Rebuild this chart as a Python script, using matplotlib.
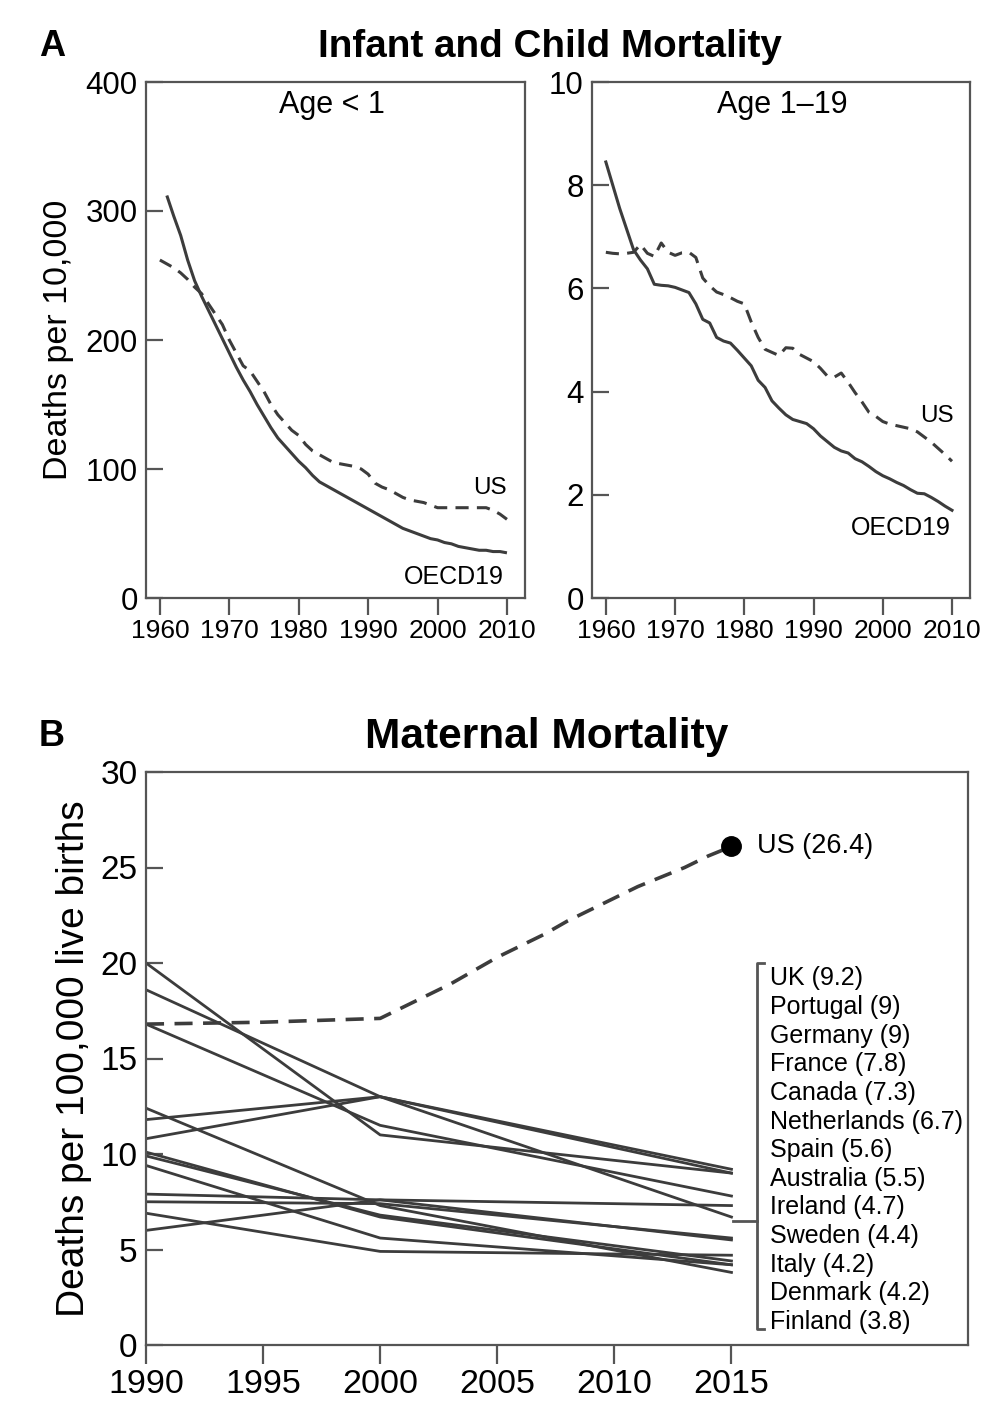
import numpy as np
import matplotlib
matplotlib.use("Agg")
import matplotlib.pyplot as plt

plt.rcParams['font.family'] = ['Liberation Sans', 'DejaVu Sans']

LINE = '#3c3c3c'
SPINE = '#555555'

# ---- Panel A: infant (<1) deaths per 10,000 ----
inf_years_oecd = list(range(1961, 2011))
inf_oecd = [312, 296, 281, 262, 246, 234, 223, 212, 201, 190,
            179, 169, 160, 150, 141, 132, 124, 118, 112, 106,
            101, 95, 90, 87, 84, 81, 78, 75, 72, 69,
            66, 63, 60, 57, 54, 52, 50, 48, 46, 45,
            43, 42, 40, 39, 38, 37, 37, 36, 36, 35]
inf_years_us = list(range(1960, 2011))
inf_us = [262, 259, 256, 252, 247, 241, 236, 228, 220, 212,
          200, 190, 180, 176, 168, 160, 150, 142, 136, 130,
          126, 119, 114, 111, 108, 105, 104, 103, 102, 100,
          96, 89, 86, 84, 81, 78, 76, 75, 74, 72,
          70, 70, 70, 70, 70, 70, 70, 70, 68, 65, 61]

# ---- Panel A: age 1-19 deaths per 10,000 ----
child_years = list(range(1960, 2011))
child_oecd = [8.45, 8.0, 7.55, 7.15, 6.75, 6.55, 6.38, 6.08, 6.06, 6.05,
              6.02, 5.97, 5.92, 5.7, 5.4, 5.33, 5.05, 4.98, 4.94, 4.8,
              4.65, 4.5, 4.22, 4.08, 3.82, 3.68, 3.55, 3.46, 3.42, 3.38,
              3.28, 3.14, 3.03, 2.92, 2.85, 2.81, 2.7, 2.64, 2.55, 2.45,
              2.37, 2.31, 2.24, 2.18, 2.1, 2.03, 2.02, 1.95, 1.87, 1.78, 1.7]
child_us = [6.7, 6.68, 6.67, 6.68, 6.7, 6.85, 6.68, 6.62, 6.88, 6.7,
            6.64, 6.69, 6.7, 6.6, 6.2, 6.05, 5.93, 5.88, 5.82, 5.75,
            5.7, 5.35, 5.05, 4.82, 4.76, 4.7, 4.85, 4.84, 4.72, 4.65,
            4.58, 4.45, 4.3, 4.28, 4.36, 4.18, 3.98, 3.8, 3.6, 3.52,
            3.42, 3.37, 3.34, 3.31, 3.28, 3.22, 3.12, 3.02, 2.9, 2.78, 2.65]

# ---- Panel B: maternal deaths per 100,000 live births ----
mat_years = [1990, 2000, 2015]
countries = ['UK', 'Portugal', 'Germany', 'France', 'Canada', 'Netherlands',
             'Spain', 'Australia', 'Ireland', 'Sweden', 'Italy', 'Denmark', 'Finland']
mat_1990 = [11.8, 20.0, 18.6, 16.8, 7.9, 10.8, 7.5, 6.0, 6.9, 9.9, 10.1, 9.4, 12.4]
mat_2000 = [13.0, 11.0, 13.0, 11.5, 7.6, 13.0, 7.4, 7.6, 4.9, 6.8, 6.7, 5.6, 7.3]
mat_2015 = [9.2, 9.0, 9.0, 7.8, 7.3, 6.7, 5.6, 5.5, 4.7, 4.4, 4.2, 4.2, 3.8]
us_mat_years = [1990, 1995, 2000, 2001, 2002, 2003, 2004, 2005, 2006, 2007,
                2008, 2009, 2010, 2011, 2012, 2013, 2014, 2015]
us_mat = [16.8, 16.9, 17.1, 17.7, 18.3, 18.9, 19.6, 20.3, 20.9, 21.5,
          22.2, 22.8, 23.4, 24.0, 24.5, 25.0, 25.6, 26.1]
us_label = 'US (26.4)'

W, H = 1004, 1426
fig = plt.figure(figsize=(W / 100, H / 100), dpi=100)


def px_axes(x0, y0, x1, y1):
    # pixel box (top-left origin) -> figure axes
    return fig.add_axes([x0 / W, 1 - y1 / H, (x1 - x0) / W, (y1 - y0) / H])


def style(ax, xsize, ysize, xlen=12):
    for s in ax.spines.values():
        s.set_color(SPINE)
        s.set_linewidth(1.6)
    ax.tick_params(axis='y', direction='in', length=12, width=1.6, color=SPINE,
                   labelsize=ysize, pad=6)
    ax.tick_params(axis='x', direction='out', length=xlen, width=1.6, color=SPINE,
                   labelsize=xsize, pad=3)


# left panel A
ax1 = px_axes(146, 82, 525, 598)
ax1.plot(inf_years_oecd, inf_oecd, color=LINE, lw=2.2, solid_capstyle='butt')
l, = ax1.plot(inf_years_us, inf_us, color=LINE, lw=2.2)
l.set_dashes((4.3, 2.7))
ax1.set_xlim(1958, 2012.6)
ax1.set_ylim(0, 400)
ax1.set_xticks(range(1960, 2011, 10))
ax1.set_yticks(range(0, 401, 100))
style(ax1, 19, 22.5)
ax1.set_ylabel('Deaths per 10,000', fontsize=24.5, labelpad=8)
ax1.text(0.49, 0.955, 'Age < 1', transform=ax1.transAxes, ha='center', va='center', fontsize=22)
ax1.text(0.952, 0.213, 'US', transform=ax1.transAxes, ha='right', va='center', fontsize=17.5)
ax1.text(0.944, 0.04, 'OECD19', transform=ax1.transAxes, ha='right', va='center', fontsize=18)

# right panel A
ax2 = px_axes(592, 82, 970, 598)
ax2.plot(child_years, child_oecd, color=LINE, lw=2.2)
l, = ax2.plot(child_years, child_us, color=LINE, lw=2.2)
l.set_dashes((4.3, 2.7))
ax2.set_xlim(1958, 2012.6)
ax2.set_ylim(0, 10)
ax2.set_xticks(range(1960, 2011, 10))
ax2.set_yticks(range(0, 11, 2))
style(ax2, 19, 22.5)
ax2.text(0.503, 0.955, 'Age 1\u201319', transform=ax2.transAxes, ha='center', va='center', fontsize=22)
ax2.text(0.958, 0.353, 'US', transform=ax2.transAxes, ha='right', va='center', fontsize=17.5)
ax2.text(0.95, 0.136, 'OECD19', transform=ax2.transAxes, ha='right', va='center', fontsize=18)

fig.text(52 / W, 1 - 47 / H, 'A', fontsize=26, fontweight='bold', ha='center', va='center')
fig.text(550 / W, 1 - 47 / H, 'Infant and Child Mortality', fontsize=27.8, fontweight='bold',
         ha='center', va='center')

# panel B
ax3 = px_axes(146, 772, 968, 1345)
for i in range(len(countries)):
    ax3.plot(mat_years, [mat_1990[i], mat_2000[i], mat_2015[i]], color=LINE, lw=2.0)
l, = ax3.plot(us_mat_years, us_mat, color=LINE, lw=2.6)
l.set_dashes((5.0, 2.9))
ax3.plot([us_mat_years[-1]], [us_mat[-1]], 'o', color='black', ms=14)
ax3.set_xlim(1990, 2025.1)
ax3.set_ylim(0, 30)
ax3.set_xticks(range(1990, 2016, 5))
ax3.set_yticks(range(0, 31, 5))
style(ax3, 24.5, 24, xlen=14)
ax3.set_ylabel('Deaths per 100,000 live births', fontsize=28, labelpad=6)
ax3.text(2016.1, us_mat[-1], us_label, ha='left', va='center', fontsize=19.5)

# bracketed country list
top_y, step = 19.2, 1.50
for i, (name, v) in enumerate(zip(countries, mat_2015)):
    ax3.text(2016.65, top_y - i * step, f'{name} ({v:g})', ha='left', va='center', fontsize=18)
bx, b0, b1, bs = 2016.1, 0.85, 20.0, 0.3
ax3.plot([bx + bs, bx, bx, bx + bs], [b1, b1, b0, b0], color=SPINE, lw=2.0, clip_on=False)
ax3.plot([2015.05, bx], [6.5, 6.5], color=SPINE, lw=2.0)

fig.text(52 / W, 1 - 737 / H, 'B', fontsize=26, fontweight='bold', ha='center', va='center')
fig.text(547 / W, 1 - 737 / H, 'Maternal Mortality', fontsize=30.5, fontweight='bold',
         ha='center', va='center')

fig.savefig('out.png', dpi=100)
